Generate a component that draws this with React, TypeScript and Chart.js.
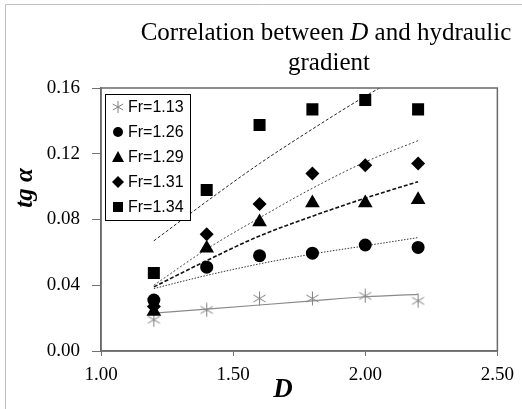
import React, { useEffect, useRef } from 'react';
import { Chart, registerables } from 'chart.js';

Chart.register(...registerables);

// ---- data ----
const dValues = [1.2, 1.4, 1.6, 1.8, 2.0, 2.2];
const seriesLabels = ['Fr=1.13', 'Fr=1.26', 'Fr=1.29', 'Fr=1.31', 'Fr=1.34'];
const fr113 = [0.019, 0.025, 0.032, 0.032, 0.0335, 0.0305];
const fr126 = [0.031, 0.051, 0.058, 0.0595, 0.0645, 0.063];
const fr129 = [0.024, 0.0625, 0.0785, 0.09, 0.09, 0.092];
const fr131 = [0.027, 0.071, 0.0895, 0.108, 0.113, 0.114];
const fr134 = [0.0475, 0.098, 0.1375, 0.147, 0.1527, 0.147];
// trendlines
const trend113 = [0.023, 0.0255, 0.028, 0.0305, 0.033, 0.0345];
const trend126 = [0.038, 0.046, 0.053, 0.059, 0.064, 0.069];
const trend129 = [0.039, 0.055, 0.07, 0.082, 0.093, 0.103];
const trend131 = [0.04, 0.062, 0.081, 0.099, 0.115, 0.128];
const trend134 = [0.067, 0.091, 0.114, 0.135, 0.155, 0.173];
const xTickValues = [1.0, 1.5, 2.0, 2.5];
const yTickValues = [0, 0.04, 0.08, 0.12, 0.16];

const SERIF = '"Liberation Serif", "Times New Roman", serif';
const SANS = '"Liberation Sans", Arial, sans-serif';

function makeStar(size: number, color: string) {
  const c = document.createElement('canvas');
  c.width = size;
  c.height = size;
  const g = c.getContext('2d')!;
  g.strokeStyle = color;
  g.lineWidth = 1;
  const m = size / 2;
  const r = size / 2 - 0.5;
  g.beginPath();
  g.moveTo(m, m - r);
  g.lineTo(m, m + r);
  for (const a of [Math.PI / 6, -Math.PI / 6]) {
    g.moveTo(m - Math.cos(a) * r, m - Math.sin(a) * r);
    g.lineTo(m + Math.cos(a) * r, m + Math.sin(a) * r);
  }
  g.stroke();
  return c;
}

const pts = (ys: number[]) => dValues.map((x, i) => ({ x, y: ys[i] }));

function drawMarker(ctx: CanvasRenderingContext2D, kind: string, x: number, y: number) {
  ctx.save();
  ctx.fillStyle = '#000';
  ctx.strokeStyle = '#808080';
  ctx.lineWidth = 1;
  ctx.beginPath();
  if (kind === 'star') {
    const r = 6;
    ctx.moveTo(x, y - r);
    ctx.lineTo(x, y + r);
    for (const a of [Math.PI / 6, -Math.PI / 6]) {
      ctx.moveTo(x - Math.cos(a) * r, y - Math.sin(a) * r);
      ctx.lineTo(x + Math.cos(a) * r, y + Math.sin(a) * r);
    }
    ctx.stroke();
  } else if (kind === 'circle') {
    ctx.arc(x, y, 5, 0, Math.PI * 2);
    ctx.fill();
  } else if (kind === 'triangle') {
    ctx.moveTo(x, y - 6);
    ctx.lineTo(x + 6, y + 5);
    ctx.lineTo(x - 6, y + 5);
    ctx.closePath();
    ctx.fill();
  } else if (kind === 'diamond') {
    ctx.moveTo(x, y - 6);
    ctx.lineTo(x + 6, y);
    ctx.lineTo(x, y + 6);
    ctx.lineTo(x - 6, y);
    ctx.closePath();
    ctx.fill();
  } else {
    ctx.rect(x - 5, y - 5, 10, 10);
    ctx.fill();
  }
  ctx.restore();
}

const legendKinds = ['star', 'circle', 'triangle', 'diamond', 'rect'];

const decorPlugin = {
  id: 'decor',
  beforeDraw(chart: any) {
    const ctx = chart.ctx as CanvasRenderingContext2D;
    ctx.save();
    ctx.fillStyle = '#fff';
    ctx.fillRect(0, 0, chart.width, chart.height);
    ctx.strokeStyle = '#c0c0c0';
    ctx.lineWidth = 1;
    ctx.beginPath();
    ctx.moveTo(5.5, chart.height);
    ctx.lineTo(5.5, 4.5);
    ctx.lineTo(chart.width, 4.5);
    ctx.stroke();
    ctx.restore();
  },
  afterDraw(chart: any) {
    const ctx = chart.ctx as CanvasRenderingContext2D;
    const a = chart.chartArea;
    ctx.save();
    // plot border
    ctx.strokeStyle = '#6a6a6a';
    ctx.lineWidth = 1.5;
    ctx.strokeRect(a.left, a.top, a.right - a.left, a.bottom - a.top);

    // title
    ctx.fillStyle = '#000';
    ctx.textBaseline = 'alphabetic';
    const parts: [string, string][] = [
      ['Correlation between ', `25px ${SERIF}`],
      ['D', `italic 25px ${SERIF}`],
      [' and hydraulic', `25px ${SERIF}`],
    ];
    let total = 0;
    for (const [t, f] of parts) {
      ctx.font = f;
      total += ctx.measureText(t).width;
    }
    let x = 326 - total / 2;
    ctx.textAlign = 'left';
    for (const [t, f] of parts) {
      ctx.font = f;
      ctx.fillText(t, x, 40);
      x += ctx.measureText(t).width;
    }
    ctx.font = `25px ${SERIF}`;
    ctx.textAlign = 'center';
    ctx.fillText('gradient', 329, 70);

    // axis titles
    ctx.font = `bold italic 27px ${SERIF}`;
    ctx.fillText('D', 283, 397);
    ctx.save();
    ctx.translate(32, 188);
    ctx.rotate(-Math.PI / 2);
    ctx.font = `bold italic 25px ${SERIF}`;
    ctx.fillText('tg \u03b1', 0, 0);
    ctx.restore();

    // legend
    ctx.fillStyle = '#fff';
    ctx.fillRect(105, 94, 85, 126);
    ctx.strokeStyle = '#000';
    ctx.lineWidth = 1;
    ctx.strokeRect(105.5, 94.5, 85, 126);
    ctx.font = `16px ${SANS}`;
    ctx.textAlign = 'left';
    ctx.textBaseline = 'middle';
    seriesLabels.forEach((lab, i) => {
      const cy = 107 + i * 25;
      drawMarker(ctx, legendKinds[i], 118, cy);
      ctx.fillStyle = '#000';
      ctx.fillText(lab, 128, cy + 1);
    });
    ctx.restore();
  },
};

export default function App() {
  const ref = useRef<HTMLCanvasElement | null>(null);
  useEffect(() => {
    document.body.style.margin = '0';
    const star = makeStar(15, '#808080');
    const scatter = (label: string, ys: number[], style: any, radius: number) => ({
      type: 'scatter' as const,
      label,
      data: pts(ys),
      pointStyle: style,
      pointRadius: radius,
      pointBackgroundColor: '#000',
      pointBorderColor: '#000',
      pointBorderWidth: 0,
      showLine: false,
    });
    const trend = (ys: number[], color: string, dash: number[], width: number) => ({
      type: 'scatter' as const,
      label: 'trend',
      data: pts(ys),
      showLine: true,
      pointRadius: 0,
      borderColor: color,
      borderWidth: width,
      borderDash: dash,
      tension: 0.4,
      cubicInterpolationMode: 'monotone' as const,
      fill: false,
    });
    const chart = new Chart(ref.current!, {
      type: 'scatter',
      data: {
        datasets: [
          scatter(seriesLabels[4], fr134, 'rect', 8.5),
          scatter(seriesLabels[3], fr131, 'rectRot', 7),
          scatter(seriesLabels[2], fr129, 'triangle', 8.5),
          scatter(seriesLabels[1], fr126, 'circle', 6.5),
          scatter(seriesLabels[0], fr113, star, 7.5),
          trend(trend134, '#222', [3, 2], 1),
          trend(trend131, '#444', [2, 2], 1),
          trend(trend129, '#111', [4, 2], 1.6),
          trend(trend126, '#333', [1.5, 1.5], 1),
          trend(trend113, '#8a8a8a', [], 1.2),
        ] as any,
      },
      options: {
        animation: false,
        responsive: false,
        devicePixelRatio: 1,
        layout: { padding: { top: 88, right: 24, left: 0, bottom: 0 } },
        plugins: {
          legend: { display: false },
          title: { display: false },
          tooltip: { enabled: false },
        },
        scales: {
          x: {
            type: 'linear',
            min: 1,
            max: 2.5,
            afterBuildTicks: (s: any) => {
              s.ticks = xTickValues.map((v) => ({ value: v }));
            },
            afterFit: (s: any) => {
              s.height = 58;
            },
            ticks: {
              callback: (v: any) => Number(v).toFixed(2),
              font: { family: SERIF, size: 19 },
              color: '#000',
              padding: 8,
              maxRotation: 0,
            },
            grid: { display: true, drawOnChartArea: false, drawTicks: true, tickLength: 5, color: '#707070' },
            border: { display: true, color: '#6a6a6a', width: 1.5 },
          },
          y: {
            type: 'linear',
            min: 0,
            max: 0.16,
            afterBuildTicks: (s: any) => {
              s.ticks = yTickValues.map((v) => ({ value: v }));
            },
            afterFit: (s: any) => {
              s.width = 101;
            },
            ticks: {
              callback: (v: any) => Number(v).toFixed(2),
              font: { family: SERIF, size: 19 },
              color: '#000',
              padding: 12,
            },
            grid: { display: true, drawOnChartArea: false, drawTicks: true, tickLength: 9, color: '#707070' },
            border: { display: true, color: '#6a6a6a', width: 1.5 },
          },
        },
      } as any,
      plugins: [decorPlugin],
    });
    return () => chart.destroy();
  }, []);
  return <canvas ref={ref} width={522} height={409} style={{ display: 'block' }} />;
}
